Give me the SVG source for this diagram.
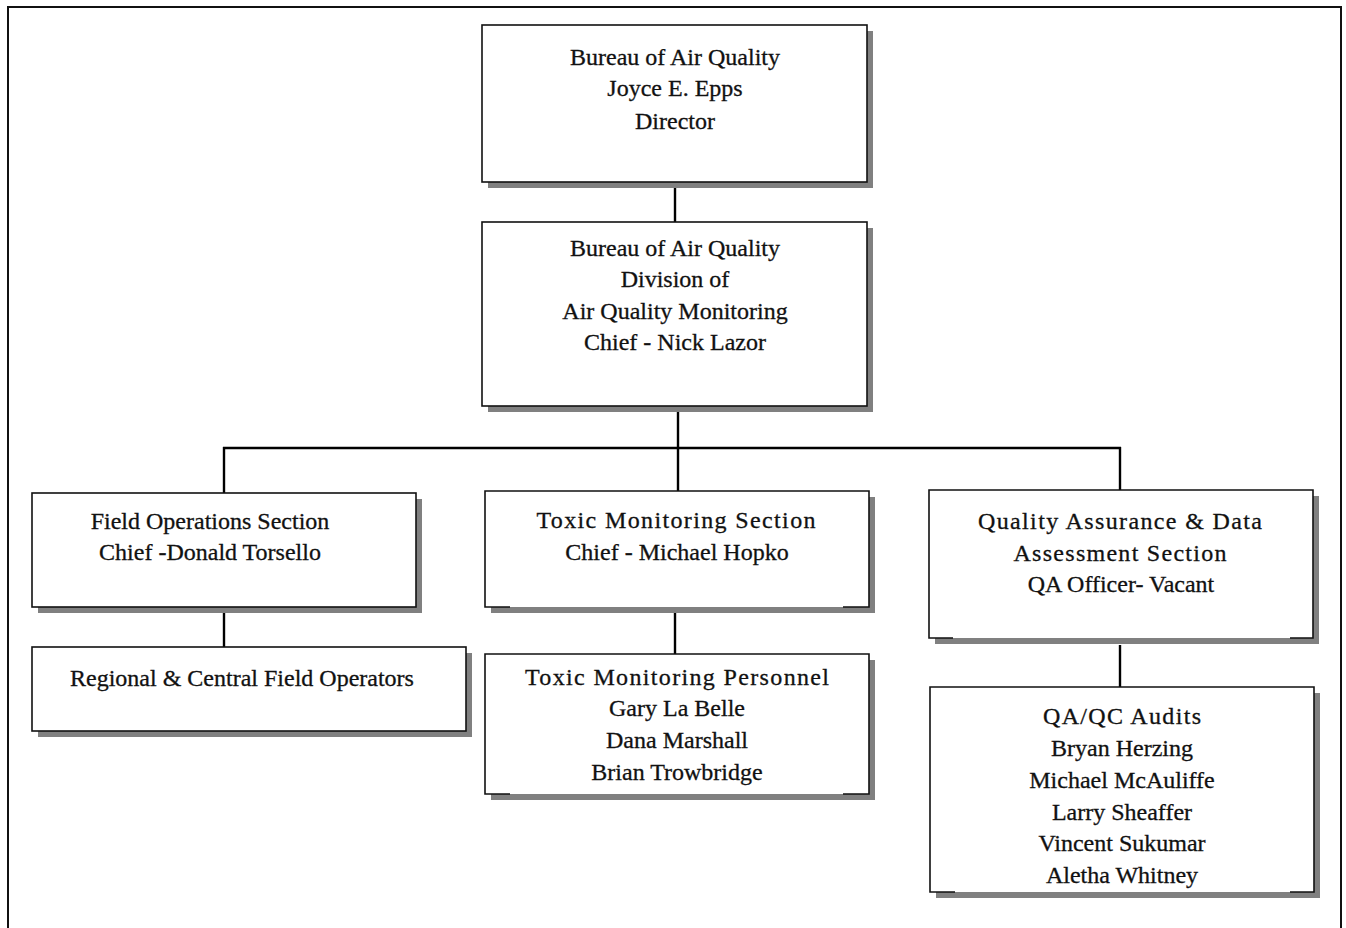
<svg xmlns="http://www.w3.org/2000/svg" width="1346" height="928" viewBox="0 0 1346 928">
<style>
.sh{fill:#808080}
.bx{fill:#fff;stroke:#111;stroke-width:1.6}
.bw{fill:#fff;stroke:none}
.ed{stroke:#111;stroke-width:1.6;fill:none}
.cn{stroke:#000;stroke-width:2.4;fill:none}
text{font-family:"Liberation Serif","Times New Roman",serif;font-size:24px;fill:#111;stroke:#111;stroke-width:0.3;text-anchor:middle}
</style>
<rect x="0" y="0" width="1346" height="928" fill="#fff"/>
<rect x="8" y="7" width="1333" height="940" fill="none" stroke="#111" stroke-width="2"/>
<g id="connectors">
<line class="cn" x1="675" y1="187" x2="675" y2="222"/>
<line class="cn" x1="678" y1="411" x2="678" y2="448"/>
<line class="cn" x1="223" y1="448" x2="1121" y2="448"/>
<line class="cn" x1="224" y1="447" x2="224" y2="493"/>
<line class="cn" x1="678" y1="447" x2="678" y2="491"/>
<line class="cn" x1="1120" y1="447" x2="1120" y2="490"/>
<line class="cn" x1="224" y1="612" x2="224" y2="647"/>
<line class="cn" x1="675" y1="612" x2="675" y2="654"/>
<line class="cn" x1="1120" y1="645" x2="1120" y2="687"/>
</g>
<g id="director">
<rect class="sh" x="488" y="31" width="385" height="157"/>
<rect class="bx" x="482" y="25" width="385" height="157"/>
<text x="675" y="65">Bureau of Air Quality</text>
<text x="675" y="96">Joyce E. Epps</text>
<text x="675" y="129">Director</text>
</g>
<g id="division">
<rect class="sh" x="488" y="228" width="385" height="184"/>
<rect class="bx" x="482" y="222" width="385" height="184"/>
<text x="675" y="256">Bureau of Air Quality</text>
<text x="675" y="287">Division of</text>
<text x="675" y="319">Air Quality Monitoring</text>
<text x="675" y="350">Chief - Nick Lazor</text>
</g>
<g id="field-ops">
<rect class="sh" x="38" y="499" width="384" height="114"/>
<rect class="bx" x="32" y="493" width="384" height="114"/>
<text x="210" y="529">Field Operations Section</text>
<text x="210" y="560">Chief -Donald Torsello</text>
</g>
<g id="field-operators">
<rect class="sh" x="38" y="653" width="434" height="84"/>
<rect class="bx" x="32" y="647" width="434" height="84"/>
<text x="242" y="686">Regional &amp; Central Field Operators</text>
</g>
<g id="toxic-section">
<rect class="sh" x="491" y="497" width="384" height="116"/>
<rect class="bw" x="485" y="491" width="384" height="116"/>
<path class="ed" d="M510,607 H485 V491 H869 V607 H843"/>
<text x="676" y="528" textLength="279" lengthAdjust="spacing">Toxic Monitoring Section</text>
<text x="677" y="560">Chief - Michael Hopko</text>
</g>
<g id="toxic-personnel">
<rect class="sh" x="491" y="660" width="384" height="140"/>
<rect class="bw" x="485" y="654" width="384" height="140"/>
<path class="ed" d="M510,794 H485 V654 H869 V794 H843"/>
<text x="677" y="685" textLength="304" lengthAdjust="spacing">Toxic Monitoring Personnel</text>
<text x="677" y="716">Gary La Belle</text>
<text x="677" y="748">Dana Marshall</text>
<text x="677" y="780">Brian Trowbridge</text>
</g>
<g id="qa-section">
<rect class="sh" x="935" y="496" width="384" height="148"/>
<rect class="bw" x="929" y="490" width="384" height="148"/>
<path class="ed" d="M953,638 H929 V490 H1313 V638 H1290"/>
<text x="1120" y="529" textLength="284" lengthAdjust="spacing">Quality Assurance &amp; Data</text>
<text x="1120" y="561" textLength="213" lengthAdjust="spacing">Assessment Section</text>
<text x="1121" y="592">QA Officer- Vacant</text>
</g>
<g id="qa-audits">
<rect class="sh" x="936" y="693" width="384" height="205"/>
<rect class="bw" x="930" y="687" width="384" height="205"/>
<path class="ed" d="M955,892 H930 V687 H1314 V892 H1290"/>
<text x="1122" y="724" textLength="158" lengthAdjust="spacing">QA/QC Audits</text>
<text x="1122" y="756">Bryan Herzing</text>
<text x="1122" y="788">Michael McAuliffe</text>
<text x="1122" y="820">Larry Sheaffer</text>
<text x="1122" y="851">Vincent Sukumar</text>
<text x="1122" y="883">Aletha Whitney</text>
</g>
</svg>
